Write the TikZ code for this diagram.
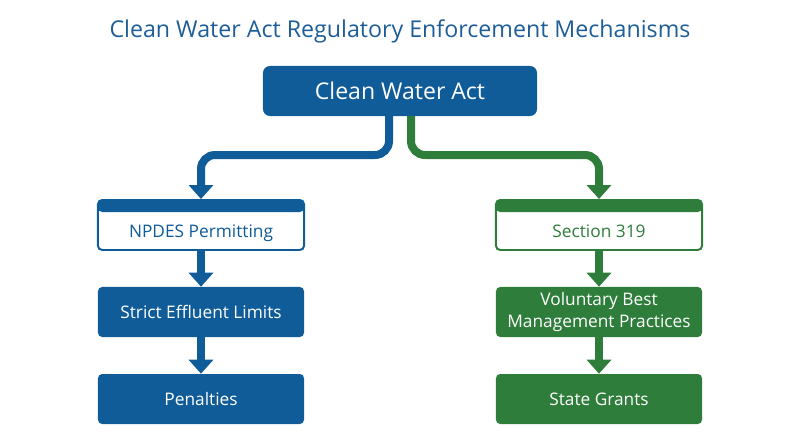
\documentclass[tikz,border=0pt]{standalone}
\usepackage{fontspec}
\setmainfont{Open Sans}
\usetikzlibrary{arrows.meta,positioning}
\definecolor{cwablue}{HTML}{0F5C99}
\definecolor{cwagreen}{HTML}{2E7D3B}
\definecolor{titleblue}{HTML}{1D5E98}
\begin{document}
\begin{tikzpicture}[x=0.025cm,y=-0.025cm]
\tikzset{
  box/.style={rectangle,rounded corners=3pt,minimum width=5.15cm,minimum height=1.25cm,
    align=center,text=white,font=\fontsize{12.3}{15}\selectfont},
  bluebox/.style={box,fill=cwablue},
  greenbox/.style={box,fill=cwagreen},
  headbox/.style={box,fill=white,draw=#1,line width=1.4pt,text=#1,
    path picture={\fill[#1] (path picture bounding box.north west) rectangle
      ([yshift=-0.3cm]path picture bounding box.north east);}},
  flow/.style={line width=0.2cm,draw=#1,-{Triangle[width=0.6cm,length=0.35cm]}},
  elbow/.style={flow=#1,rounded corners=0.35cm}
}
\useasboundingbox (0,0) rectangle (800,447);
\node[text=titleblue,font=\fontsize{16.5}{20}\selectfont] (title) at (400,31) {Clean Water Act Regulatory Enforcement Mechanisms};
\node[bluebox,minimum width=6.85cm,rounded corners=5pt,font=\fontsize{16.4}{20}\selectfont] (cwa) at (400,91) {Clean Water Act};
% left column
\node[headbox=cwablue] (npdes) at (201,225) {\raisebox{-9pt}[0pt][0pt]{NPDES Permitting}};
\node[bluebox] (strict) at (201,312) {Strict Effluent Limits};
\node[bluebox] (penal) at (201,399) {Penalties};
% right column
\node[headbox=cwagreen] (sec) at (599,225) {\raisebox{-9pt}[0pt][0pt]{Section 319}};
\node[greenbox] (bmp) at (599,312) {Voluntary Best\\Management Practices};
\node[greenbox] (grant) at (599,399) {State Grants};
\coordinate (lsplit) at (389,116);
\coordinate (rsplit) at (411,116);
\draw[elbow=cwablue] (lsplit) -- (389,155) -- (201,155) -- (npdes.north);
\draw[elbow=cwagreen] (rsplit) -- (411,155) -- (599,155) -- (sec.north);
\draw[flow=cwablue] (npdes) -- (strict);
\draw[flow=cwablue] (strict) -- (penal);
\draw[flow=cwagreen] (sec) -- (bmp);
\draw[flow=cwagreen] (bmp) -- (grant);
\end{tikzpicture}
\end{document}
